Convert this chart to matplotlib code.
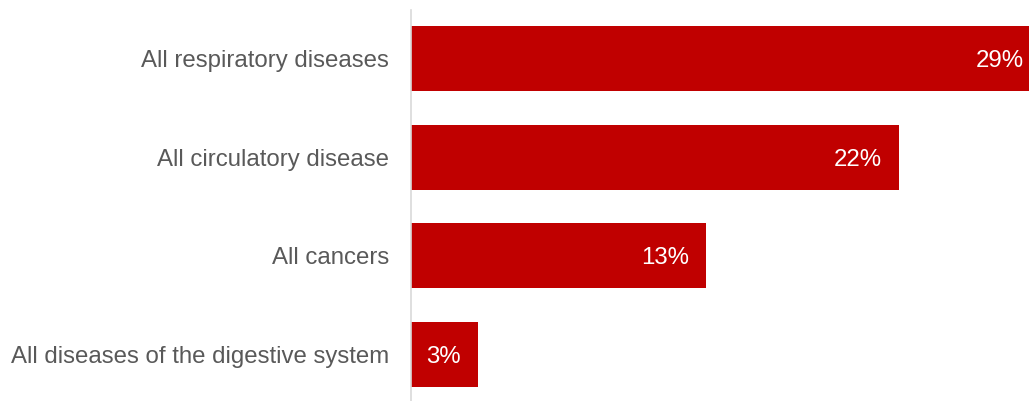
import matplotlib.pyplot as plt

plt.rcParams['font.family'] = ['Liberation Sans', 'DejaVu Sans']

categories = ["All respiratory diseases", "All circulatory disease",
              "All cancers", "All diseases of the digestive system"]
values = [28.6, 22.0, 13.3, 3.0]

fig = plt.figure(figsize=(10.29, 4.01), dpi=100)
ax = fig.add_axes([411 / 1029, 0, 1 - 411 / 1029, 1 - 10 / 401])

pos = list(range(len(categories)))
ax.barh(pos, values, height=0.66, color="#C00000")

xmax = (1029 - 411) / 22.2
ax.set_xlim(0, xmax)
ax.set_ylim(3.47, -0.49)

# labels inside the bar ends (clipped bar gets its label at the visible edge)
for p, v in zip(pos, values):
    xl = min(v - 0.78, xmax - 0.22)
    ax.text(xl, p, f"{v:.0f}%", ha="right", va="center_baseline",
            color="white", fontsize=17.3)

ax.set_yticks(pos)
ax.set_yticklabels(categories, fontsize=17.3, color="#595959")
ax.tick_params(axis="y", length=0, pad=16)
ax.set_xticks([])
for s in ["top", "right", "bottom"]:
    ax.spines[s].set_visible(False)
ax.spines["left"].set_color("#D9D9D9")
ax.spines["left"].set_linewidth(1.2)

fig.savefig("out.png", dpi=100)
